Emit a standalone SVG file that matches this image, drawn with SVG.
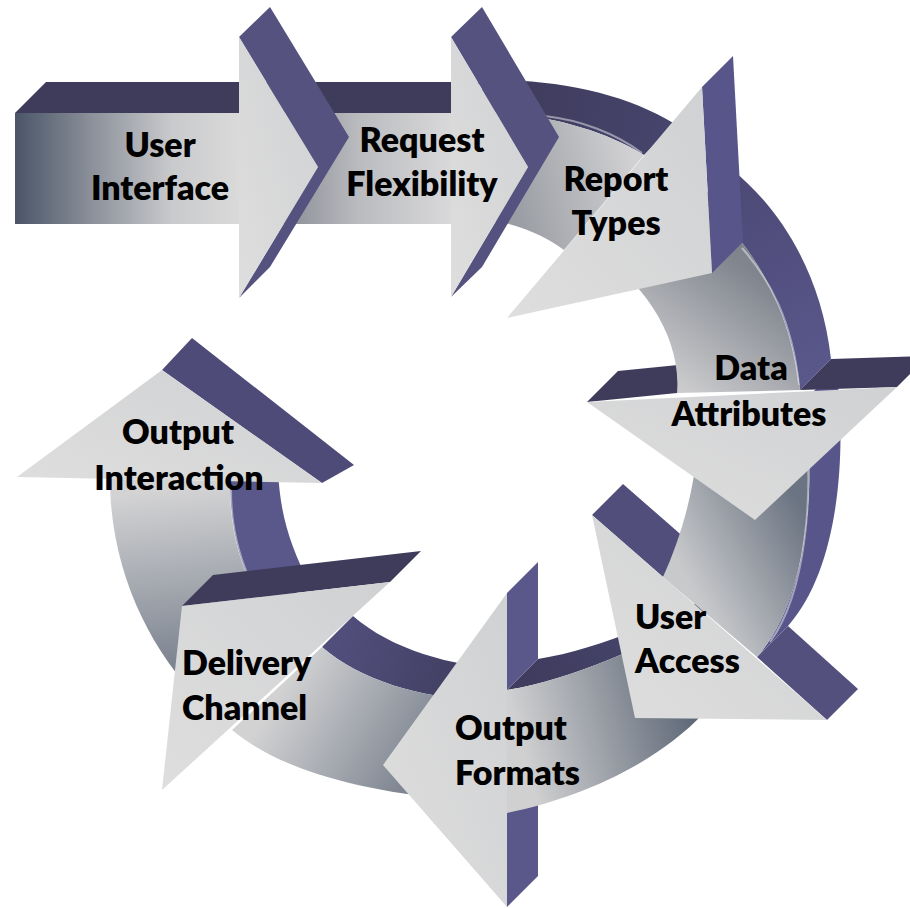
<svg xmlns="http://www.w3.org/2000/svg" width="910" height="908" viewBox="0 0 910 908">
<style>
  .lbl { font-family: Lato, "Liberation Sans", "DejaVu Sans", sans-serif; font-weight: 800; font-size: 34px; fill: #000; }
  .mid { text-anchor: middle; }
  .top { fill: #3e3b5b; }
  .side { fill: #55527f; }
  .light { fill: #5a578b; }
  .head { fill: url(#gHead); }
  .hl { fill: none; stroke: #eeeef2; stroke-width: 2; stroke-opacity: 0.5; }
</style>
<defs>
  <linearGradient id="gHead" x1="1" y1="0" x2="0" y2="1">
    <stop offset="0" stop-color="#d0d1d3"/>
    <stop offset="1" stop-color="#dedede"/>
  </linearGradient>
  <linearGradient id="gUI" gradientUnits="userSpaceOnUse" x1="15" y1="0" x2="240" y2="0">
    <stop offset="0" stop-color="#4a5568"/>
    <stop offset="0.35" stop-color="#8d929b"/>
    <stop offset="0.7" stop-color="#c9cacc"/>
    <stop offset="1" stop-color="#dadada"/>
  </linearGradient>
  <linearGradient id="gRF" gradientUnits="userSpaceOnUse" x1="265" y1="0" x2="452" y2="0">
    <stop offset="0" stop-color="#7e828c"/>
    <stop offset="0.5" stop-color="#babbbf"/>
    <stop offset="1" stop-color="#d9d9da"/>
  </linearGradient>
  <linearGradient id="gRT" gradientUnits="userSpaceOnUse" x1="515" y1="210" x2="640" y2="180">
    <stop offset="0" stop-color="#9a9da3"/>
    <stop offset="1" stop-color="#d2d2d4"/>
  </linearGradient>
  <linearGradient id="gDA" gradientUnits="userSpaceOnUse" x1="765" y1="280" x2="685" y2="390">
    <stop offset="0" stop-color="#7f848d"/>
    <stop offset="1" stop-color="#cbcbcd"/>
  </linearGradient>
  <linearGradient id="gUA" gradientUnits="userSpaceOnUse" x1="808" y1="520" x2="690" y2="585">
    <stop offset="0" stop-color="#6b7482"/>
    <stop offset="1" stop-color="#c8c9cb"/>
  </linearGradient>
  <linearGradient id="gOF" gradientUnits="userSpaceOnUse" x1="695" y1="715" x2="525" y2="760">
    <stop offset="0" stop-color="#5d6776"/>
    <stop offset="1" stop-color="#d0d0d1"/>
  </linearGradient>
  <linearGradient id="gDC" gradientUnits="userSpaceOnUse" x1="445" y1="790" x2="280" y2="690">
    <stop offset="0" stop-color="#6b7482"/>
    <stop offset="1" stop-color="#d2d2d3"/>
  </linearGradient>
  <linearGradient id="gOI" gradientUnits="userSpaceOnUse" x1="190" y1="690" x2="170" y2="490">
    <stop offset="0" stop-color="#6f7886"/>
    <stop offset="1" stop-color="#d3d3d4"/>
  </linearGradient>
  <linearGradient id="pRT" gradientUnits="userSpaceOnUse" x1="480" y1="80" x2="670" y2="130">
    <stop offset="0" stop-color="#3d3a59"/>
    <stop offset="1" stop-color="#47446d"/>
  </linearGradient>
  <linearGradient id="pDA" gradientUnits="userSpaceOnUse" x1="725" y1="170" x2="830" y2="370">
    <stop offset="0" stop-color="#4c4976"/>
    <stop offset="1" stop-color="#5a578b"/>
  </linearGradient>
  <linearGradient id="pOF" gradientUnits="userSpaceOnUse" x1="530" y1="670" x2="700" y2="600">
    <stop offset="0" stop-color="#3f3c5e"/>
    <stop offset="1" stop-color="#4b4873"/>
  </linearGradient>
  <linearGradient id="pDC" gradientUnits="userSpaceOnUse" x1="340" y1="630" x2="500" y2="680">
    <stop offset="0" stop-color="#514e7c"/>
    <stop offset="1" stop-color="#3e3b5c"/>
  </linearGradient>
</defs>

<!-- drawn back to front: later steps of the cycle lie underneath earlier ones -->
<g id="node-output-interaction">
  <path class="light" d="M230,481 C230,530 240,570 265,610 L310,585 C290,545 280,515 278,470 Z"/>
  <path fill="url(#gOI)" d="M230,481 C230,530 240,570 265,610 L200,700 C150,650 110,570 110,479 Z"/>
  <path class="hl" d="M231,490 C231,530 241,570 265,608"/>
  <polygon fill="#4e4b78" points="162,370 192,338 354,465 322,483"/>
  <polygon class="head" points="17,477 162,370 322,483"/>
  <text class="lbl mid" x="178" y="444">Output</text>
  <text class="lbl mid" x="179" y="490">Interaction</text>
</g>

<g id="node-delivery-channel">
  <path fill="url(#pDC)" d="M480,700 C420,698 360,680 322,647 L353,616 C391,649 451,667 511,669 Z"/>
  <path fill="url(#gDC)" d="M480,700 C420,698 360,680 322,647 L232,730 C270,762 340,790 460,800 Z"/>
  <polygon class="top" points="182,606 213,575 421,551 390,582"/>
  <polygon class="head" points="390,582 162,790 182,606"/>
  <text class="lbl" x="182" y="675">Delivery</text>
  <text class="lbl" x="182" y="720">Channel</text>
</g>

<g id="node-output-formats">
  <path fill="url(#pOF)" d="M507,690 C570,680 650,645 700,615 L731,584 C681,614 601,649 538,659 Z"/>
  <polygon class="light" points="507,593 538,562 538,659 507,690"/>
  <polygon class="light" points="507,813 538,782 538,876 507,907"/>
  <path fill="url(#gOF)" d="M705,712 C650,770 570,800 507,813 L507,690 C570,680 650,645 700,615 Z"/>
  <polygon class="head" points="507,593 507,907 383,765"/>
  <text class="lbl" x="455" y="740">Output</text>
  <text class="lbl" x="455" y="785">Formats</text>
</g>

<g id="node-user-access">
  <path fill="#58558a" d="M805,400 C815,470 812,595 757,657 L788,626 C843,564 846,439 836,369 Z"/>
  <polygon fill="#53507d" points="757,657 788,626 858,689 827,720"/>
  <polygon fill="#514e7b" points="592,515 623,484 694,546 663,577"/>
  <path fill="url(#gUA)" d="M698,440 L805,400 C815,470 812,595 757,657 L663,577 C680,540 695,490 698,440 Z"/>
  <path class="hl" d="M806,430 C812,490 808,590 770,642"/>
  <polygon class="head" points="592,515 827,720 635,718"/>
  <text class="lbl" x="635" y="629">User</text>
  <text class="lbl" x="635" y="673">Access</text>
</g>

<g id="node-data-attributes">
  <path fill="url(#pDA)" d="M700,200 C745,235 790,300 800,390 L831,359 C821,269 776,204 731,169 Z"/>
  <polygon class="top" points="800,390 831,359 928,356 897,387"/>
  <polygon class="top" points="587,402 618,371 708,362 677,393"/>
  <path fill="url(#gDA)" d="M700,200 C745,235 790,300 800,390 L677,393 C682,335 640,280 600,255 Z"/>
  <path class="hl" d="M742,248 C770,280 792,320 799,385"/>
  <polygon class="head" points="587,402 897,387 755,520"/>
  <text class="lbl mid" x="751" y="380">Data</text>
  <text class="lbl mid" x="749" y="426">Attributes</text>
</g>

<g id="node-report-types">
  <path fill="url(#pRT)" d="M460,111 C530,111 595,125 644,155 L675,124 C626,94 561,80 491,80 Z"/>
  <polygon fill="#58558a" points="702,87 733,56 743,242 712,273"/>
  <path fill="url(#gRT)" d="M460,111 C530,111 595,125 644,155 L564,250 C545,236 515,220 460,216 Z"/>
  <path class="hl" d="M545,116 C580,120 615,133 642,153"/>
  <polygon class="head" points="702,87 712,273 507,318"/>
  <text class="lbl mid" x="616" y="191">Report</text>
  <text class="lbl mid" x="616" y="235">Types</text>
</g>

<g id="node-request-flexibility">
  <polygon class="top" points="239,113 270,82 482,82 451,113"/>
  <polygon class="side" points="451,37 482,7 559,137 482,267 451,297 528,167"/>
  <rect x="239" y="113" width="213" height="111" fill="url(#gRF)"/>
  <polygon class="head" points="451,37 528,167 451,297"/>
  <text class="lbl mid" x="422" y="152">Request</text>
  <text class="lbl mid" x="422" y="196">Flexibility</text>
</g>

<g id="node-user-interface">
  <polygon class="top" points="15,113 46,82 270,82 239,113"/>
  <polygon class="side" points="239,37 270,7 349,137 270,267 239,298 318,167"/>
  <rect x="15" y="113" width="225" height="111" fill="url(#gUI)"/>
  <polygon class="head" points="239,37 318,167 239,298"/>
  <text class="lbl mid" x="160" y="157">User</text>
  <text class="lbl mid" x="160" y="200">Interface</text>
</g>

<g id="connectors"/>
</svg>
